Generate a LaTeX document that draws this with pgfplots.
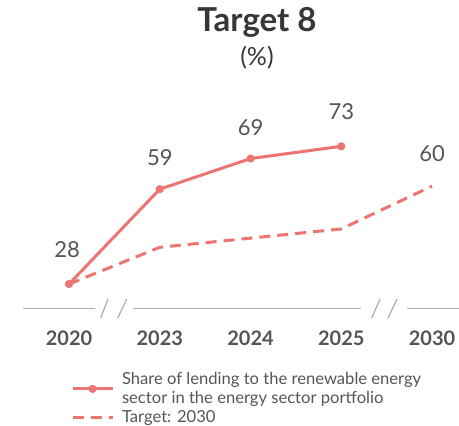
\documentclass[border=0pt]{standalone}
\usepackage{pgfplots}
\pgfplotsset{compat=1.18}
\usepackage{fontspec}
\setmainfont{Lato}
\definecolor{linered}{RGB}{236,117,114}
\definecolor{axgray}{RGB}{172,172,172}
\definecolor{txt}{RGB}{85,85,85}
\definecolor{ttl}{RGB}{55,55,55}
\begin{document}
\begin{tikzpicture}[x=1pt,y=1pt]
\useasboundingbox (0,0) rectangle (459,426);
\begin{axis}[
  at={(23pt,117.5pt)}, anchor=south west,
  scale only axis, width=436pt, height=214.2pt,
  xmin=-0.507, xmax=4.297, ymin=20, ymax=90,
  clip=false,
  hide y axis,
  axis x line*=bottom,
  x axis line style={draw=none},
  major tick length=0pt,
  xtick={0,1,2,3,4},
  xticklabels={2020,2023,2024,2025,2030},
  xticklabel style={font=\bfseries\fontsize{20}{24}\selectfont, text=txt, anchor=center, yshift=-29.5pt},
  legend style={draw=none, fill=none, at={(axis cs:0.02,-0.25)}, anchor=north west,
    font=\fontsize{16.6}{18.8}\selectfont, text=txt, cells={anchor=west, align=left},
    row sep=1.5pt, inner sep=0pt, nodes={inner xsep=4pt},
    /tikz/every odd column/.append style={column sep=4pt}},
  legend image code/.code={\draw[mark repeat=2,mark phase=2,#1] plot coordinates {(0pt,0pt) (20pt,0pt) (40pt,0pt)};},
]
% baseline with breaks
\addplot[axgray, line width=1.5pt, forget plot] coordinates {(-0.507,20) (0.287,20)};
\addplot[axgray, line width=1.5pt, forget plot] coordinates {(0.705,20) (3.218,20)};
\addplot[axgray, line width=1.5pt, forget plot] coordinates {(3.724,20) (4.297,20)};
\addplot[axgray, line width=1.2pt, forget plot] coordinates {(0.349,16.9) (0.430,23.1)};
\addplot[axgray, line width=1.2pt, forget plot] coordinates {(0.537,16.9) (0.636,23.1)};
\addplot[axgray, line width=1.2pt, forget plot] coordinates {(3.336,16.9) (3.427,23.1)};
\addplot[axgray, line width=1.2pt, forget plot] coordinates {(3.515,16.9) (3.614,23.1)};
% data
\addplot[linered, line width=3pt, mark=*, mark size=2.5pt, mark options={solid, fill=linered}] coordinates {(0,28) (1,59) (2,69) (3,73)};
\addlegendentry{Share of lending to the renewable energy\\sector in the energy sector portfolio}
\addplot[linered, line width=3pt, dash pattern=on 11pt off 7pt] coordinates {(0,28) (1,40) (2,43) (3,46) (4,60)};
\addlegendentry{Target: 2030}
% value labels
\node[font=\fontsize{22}{26}\selectfont, text=txt] at (axis cs:-0.02,28) [yshift=34pt] {28};
\node[font=\fontsize{22}{26}\selectfont, text=txt] at (axis cs:1,59) [yshift=32pt] {59};
\node[font=\fontsize{22}{26}\selectfont, text=txt] at (axis cs:2,69) [yshift=31pt] {69};
\node[font=\fontsize{22}{26}\selectfont, text=txt] at (axis cs:3,73) [yshift=35pt] {73};
\node[font=\fontsize{22}{26}\selectfont, text=txt] at (axis cs:4,60) [yshift=32.5pt] {60};
\end{axis}
\node[font=\bfseries\fontsize{33}{37}\selectfont, text=ttl] at (257,404) {Target 8};
\node[font=\fontsize{25}{28}\selectfont, text=ttl] at (257,368) {(\%)};
\end{tikzpicture}
\end{document}
